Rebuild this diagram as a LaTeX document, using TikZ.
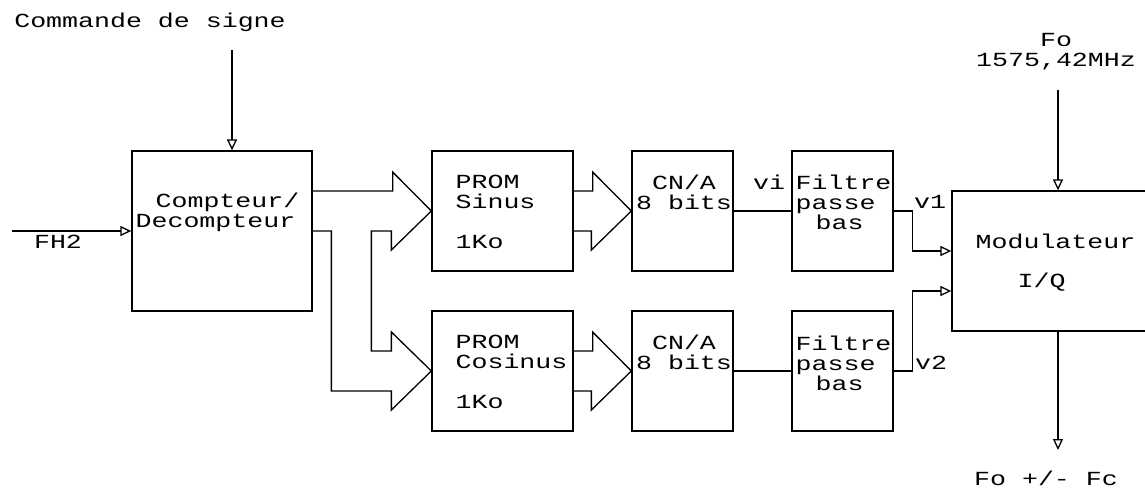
\documentclass[tikz,border=0pt]{standalone}
\usepackage{fontspec}
\newfontfamily\pixfont[FakeStretch=1.33]{Liberation Mono}
\usepackage{tikz}
\usetikzlibrary{arrows.meta}
\usetikzlibrary{calc}
\usetikzlibrary{positioning}

\tikzset{
	blk/.style={draw, inner sep=0pt, minimum width=101pt, minimum height=120pt},
	txt/.style={font=\pixfont\fontsize{20}{20}\selectfont, inner sep=0pt},
	sig/.style={-{Triangle[open,length=11pt,width=10pt]}},
}

\begin{document}
\begin{tikzpicture}[x=1pt, y=-1pt, line width=1.3pt]
		\clip (0,0) rectangle (1145,490);
		
		% blocks
		\node[blk, minimum width=180pt, minimum height=160pt] (cpt) at (222,231) {};
		\node[blk, minimum width=141pt] (psin) at (502.5,211) {};
		\node[blk, minimum width=141pt] (pcos) at (502.5,371) {};
		\node[blk] (cnas) at (682.5,211) {};
		\node[blk] (cnac) at (682.5,371) {};
		\node[blk] (fils) at (842.5,211) {};
		\node[blk] (filc) at (842.5,371) {};
		\node[blk, minimum width=208pt, minimum height=140pt] (mod) at (1056,261) {};
		
		% block texts
		\node[txt, align=left, anchor=west] (cpt-t) at (135,212) {\hspace*{20pt}Compteur/\\Decompteur};
		\node[txt, align=left, anchor=west] (psin-t) at (455,212) {PROM\\Sinus\\[20pt]1Ko};
		\node[txt, align=left, anchor=west] (pcos-t) at (455,372) {PROM\\Cosinus\\[20pt]1Ko};
		\node[txt, align=center] (cnas-t) at (684,192) {CN/A\\8 bits};
		\node[txt, align=center] (cnac-t) at (684,352) {CN/A\\8 bits};
		\node[txt, align=left, anchor=west] (fils-t) at (795,202) {Filtre\\passe\\\hspace*{20pt}bas};
		\node[txt, align=left, anchor=west] (filc-t) at (795,363) {Filtre\\passe\\\hspace*{20pt}bas};
		\node[txt, align=left, anchor=west] (mod-t) at (975,262.5) {Modulateur\\[19pt]\hspace*{42pt}I/Q};
		
		% outer signals
		\node[txt] (cmd) at (150,22) {Commande de signe};
		\coordinate (cmdin) at (232,50);
		\draw[sig] (cmdin) -- (cmdin |- cpt.north);
		
		\coordinate (fhin) at (12,231);
		\draw[sig] (fhin) -- (cpt.west);
		\node[txt] (fh) at (58,242) {FH2};
		
		\node[txt, align=center] (fo) at (1056,52) {Fo\\1575,42MHz};
		\coordinate (foin) at (1058,90);
		\draw[sig] (foin) -- (foin |- mod.north);
		
		\coordinate (fout) at (1058,450);
		\draw[sig] (fout |- mod.south) -- (fout);
		\node[txt] (out) at (1046,478) {Fo +/- Fc};
		
		% bus arrows, counter to the two PROMs
		\draw (cpt.east) ++(0,-40) -- ++(80,0) -- ++(0,-19) -- (psin.west) -- ++(-40,39) -- ++(0,-19)
			-- ++(-20,0) |- ($(pcos.west)+(-40,-20)$) -- ++(0,-19) -- (pcos.west) -- ++(-40,39) -- ++(0,-19)
			-- ++(-60,0) |- (cpt.east);
		
		% bus arrows, PROMs to the converters
		\foreach \a/\b in {psin/cnas,pcos/cnac}
			\draw ($(\a.east)+(0,-20)$) -- ++(19,0) -- ++(0,-19) -- (\b.west) -- ++(-40,39) -- ++(0,-19) -- ++(-19,0);
		
		% converters to filters to modulator
		\draw (cnas.east) -- (fils.west);
		\draw (cnac.east) -- (filc.west);
		\node[txt] (vi) at (769,182) {vi};
		\draw[sig] (fils.east) -- ++(19,0) |- ($(mod.west)+(0,-10)$);
		\draw[sig] (filc.east) -- ++(19,0) |- ($(mod.west)+(0,30)$);
		\node[txt] (v1) at (930,202) {v1};
		\node[txt] (v2) at (931,363) {v2};
	\end{tikzpicture}
\end{document}
